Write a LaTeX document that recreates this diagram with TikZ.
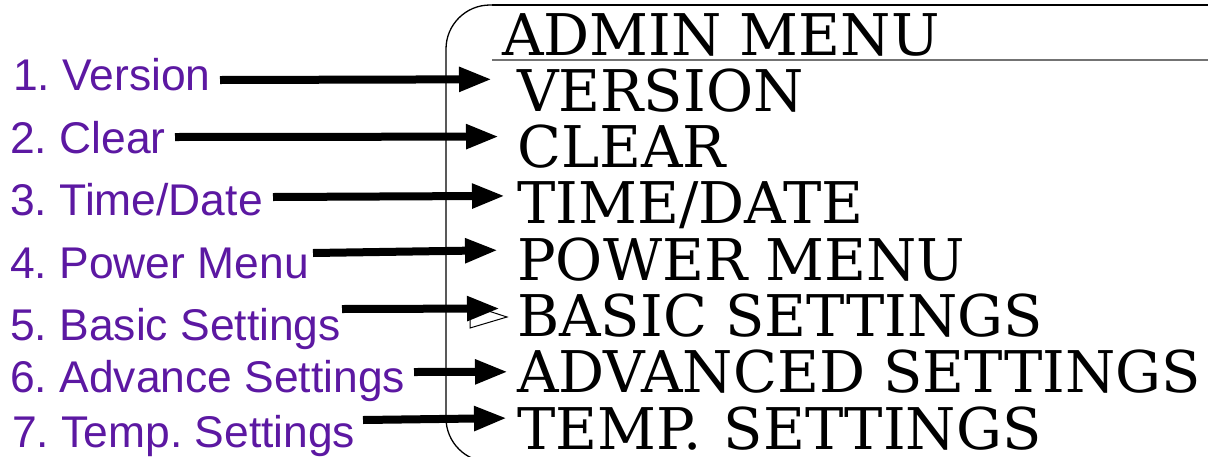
\documentclass[tikz,border=0pt]{standalone}
\usepackage{fontspec}
\setmainfont{DejaVu Serif}
\newfontfamily\labfont{Liberation Sans}
\usetikzlibrary{arrows.meta,calc}
\definecolor{labpurple}{HTML}{5C18A2}
\tikzset{
  menu/.style={anchor=base west,inner sep=0pt,font=\fontsize{57.5}{60}\selectfont},
  lab/.style={anchor=base west,inner sep=0pt,text=labpurple,font=\labfont\frenchspacing\fontsize{44.4}{48}\selectfont},
  arr/.style={line width=8pt,-{Triangle[length=33pt,width=23pt]}},
}
\begin{document}
\begin{tikzpicture}[x=1pt,y=-1pt]
\useasboundingbox (0,0) rectangle (1208,456);
% box
\draw[line width=1.3pt,rounded corners=44pt] (1230,5) -- (446,5) -- (446,462) -- (1230,462);
\draw[line width=2pt] (492,5) -- (1230,5);
\draw[line width=2pt,black!55] (492,60) -- (1230,60);
% menu
\node[menu] (m0) at (502,55) {ADMIN MENU};
\node[menu] (m1) at (517,111.3) {VERSION};
\node[menu] (m2) at (517,167.6) {CLEAR};
\node[menu] (m3) at (517,223.9) {TIME/DATE};
\node[menu] (m4) at (517,280.2) {POWER MENU};
\node[menu] (m5) at (517,336.5) {BASIC SETTINGS};
\node[menu] (m6) at (517,392.8) {ADVANCED SETTINGS};
\node[menu] (m7) at (517,449.1) {TEMP.\hspace{4pt} SETTINGS};
% labels
\node[lab] (l1) at (13,90) {1. Version};
\node[lab] (l2) at (10,153) {2. Clear};
\node[lab] (l3) at (10,215) {3. Time/Date};
\node[lab] (l4) at (10,278) {4. Power Menu};
\node[lab] (l5) at (10,340) {5. Basic Settings};
\node[lab] (l6) at (10,392) {6. Advance Settings};
\node[lab] (l7) at (12,447) {7. Temp. Settings};
% hollow triangle
\draw[line width=1pt,fill=white] (470,305) -- (507,317) -- (470,328) -- cycle;
% arrows
\draw[arr] ($(l1.base west)+(207,-10)$) -- ($(m1.base west)+(-25,-32)$);
\draw[arr] ($(l2.base west)+(165,-16)$) -- ($(m2.base west)+(-18,-31)$);
\draw[arr] ($(l3.base west)+(263,-18)$) -- ($(m3.base west)+(-12,-28)$);
\draw[arr] ($(l4.base west)+(303,-25)$) -- ($(m4.base west)+(-19,-30)$);
\draw[arr] ($(l5.base west)+(332,-31)$) -- ($(m5.base west)+(-17,-28)$);
\draw[arr] ($(l6.base west)+(404,-20)$) -- ($(m6.base west)+(-9,-21)$);
\draw[arr] ($(l7.base west)+(351,-27)$) -- ($(m7.base west)+(-10,-31)$);
\end{tikzpicture}
\end{document}
